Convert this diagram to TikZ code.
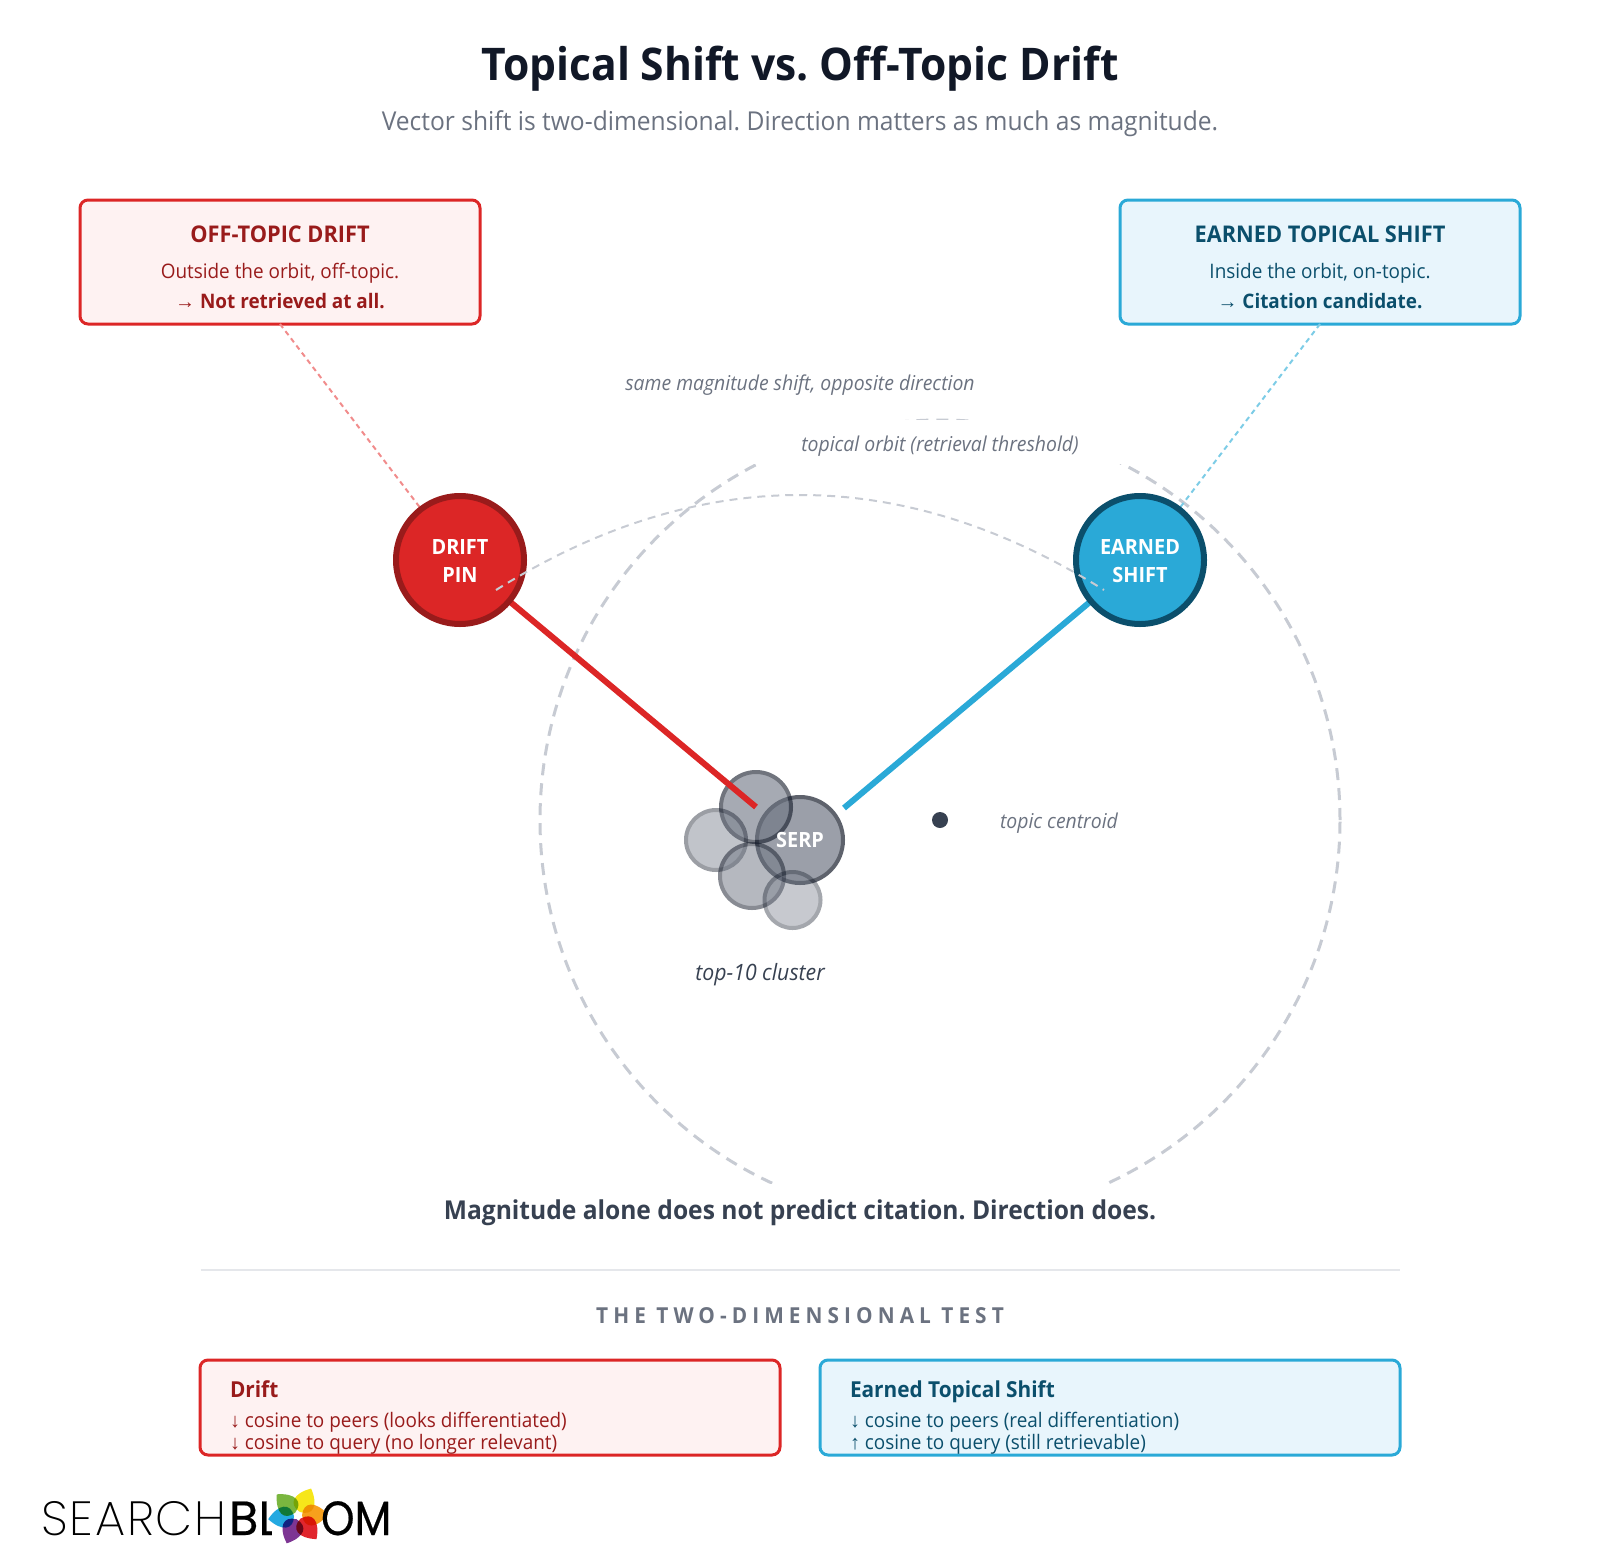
\documentclass[tikz,border=0pt]{standalone}
\usepackage{fontspec}
\usepackage{xcolor}
\setmainfont[FakeStretch=0.946]{Open Sans}
\newfontfamily\arrowfont{Liberation Sans}
\newfontfamily\logothin{Poppins ExtraLight}
\newfontfamily\logobold[FakeBold=0.4]{Poppins}
\usetikzlibrary{positioning}
\definecolor{sbink}{rgb}{0.067, 0.094, 0.153}
\definecolor{sbgrey}{rgb}{0.42, 0.447, 0.502}
\definecolor{sbslate}{rgb}{0.216, 0.255, 0.318}
\definecolor{sborbit}{rgb}{0.78, 0.796, 0.827}
\definecolor{sbrule}{rgb}{0.898, 0.906, 0.922}
\definecolor{sbred}{rgb}{0.863, 0.149, 0.149}
\definecolor{sbreddark}{rgb}{0.6, 0.106, 0.106}
\definecolor{sbredpale}{rgb}{0.996, 0.949, 0.949}
\definecolor{sbredlead}{rgb}{0.945, 0.55, 0.55}
\definecolor{sbblue}{rgb}{0.165, 0.663, 0.843}
\definecolor{sbbluedark}{rgb}{0.043, 0.31, 0.424}
\definecolor{sbbluepale}{rgb}{0.91, 0.961, 0.988}
\definecolor{sbbluelead}{rgb}{0.49, 0.8, 0.902}
\definecolor{petalgreen}{rgb}{0.478, 0.714, 0.247}
\definecolor{petalyellow}{rgb}{0.965, 0.902, 0.102}
\definecolor{petalorange}{rgb}{0.969, 0.627, 0.11}
\definecolor{petalred}{rgb}{0.882, 0.149, 0.176}
\definecolor{petalpurple}{rgb}{0.49, 0.208, 0.576}
\definecolor{petalblue}{rgb}{0.141, 0.663, 0.882}
\newcommand{\fsz}[1]{\fontsize{#1}{#1}\selectfont}
\newcommand{\arr}[1]{{\arrowfont #1}}
\frenchspacing
\tikzset{
    lbl/.style={anchor=base, inner sep=0pt, outer sep=0pt},
    lblw/.style={anchor=base west, inner sep=0pt, outer sep=0pt},
    notebox/.style={draw, rectangle, rounded corners=8pt, line width=3pt, inner sep=0pt, outer sep=0pt},
    pinnode/.style={draw, circle, line width=6pt, minimum size=128pt, inner sep=0pt, outer sep=0pt},
    peer/.style={draw=sbink, fill=sbgrey, circle, line width=4pt, inner sep=0pt, outer sep=0pt},
    lead/.style={line width=2pt, dash pattern=on 5pt off 4pt},
    shiftline/.style={line width=6pt},
    orbit/.style={draw=sborbit, line width=3pt, dash pattern=on 12pt off 8pt},
    petal/.style={blend mode=multiply}
}
\begin{document}
\begin{tikzpicture}[x=1pt, y=-1pt]
        \useasboundingbox (0,0) rectangle (1600,1560);

        \node[lbl, font=\bfseries\fsz{45}, text=sbink] (Title) at (800, 81) {Topical Shift vs. Off-Topic Drift};
        \node[lbl, font=\fsz{26}, text=sbgrey] (Sub) at (800, 131) {Vector shift is two-dimensional. Direction matters as much as magnitude.};

        \coordinate (Cd) at (460, 560);
        \coordinate (Ce) at (1140, 560);
        \coordinate (Be) at (844, 808);
        \coordinate (Aa) at (496, 590);
        \coordinate (Ab) at (1104, 590);

        \node[orbit, circle, minimum size=800pt, inner sep=0pt, outer sep=0pt] (Orbit) at (940, 820) {};
        \fill[white] (740, 420) rectangle (1140, 464);
        \fill[white] (740, 1184) rectangle (1140, 1225);

        \node[notebox, fill=sbredpale, draw=sbred, minimum width=400pt, minimum height=124pt] (Ba) at (280, 262) {};
        \node[notebox, fill=sbbluepale, draw=sbblue, minimum width=400pt, minimum height=124pt] (Bb) at (1320, 262) {};
        \node[lbl, font=\bfseries\fsz{23}, text=sbreddark] (Ta) at (280, 242) {OFF-TOPIC DRIFT};
        \node[lbl, font=\fsz{20}, text=sbreddark] (Tb) at (280, 278) {Outside the orbit, off-topic.};
        \node[lbl, font=\bfseries\fsz{20}, text=sbreddark] (Tc) at (280, 308) {\arr{→} Not retrieved at all.};
        \node[lbl, font=\bfseries\fsz{23}, text=sbbluedark] (Td) at (1320, 242) {EARNED TOPICAL SHIFT};
        \node[lbl, font=\fsz{20}, text=sbbluedark] (Te) at (1320, 278) {Inside the orbit, on-topic.};
        \node[lbl, font=\bfseries\fsz{20}, text=sbbluedark] (Tf) at (1320, 308) {\arr{→} Citation candidate.};

        \node[lbl, font=\itshape\fsz{20.5}, text=sbgrey] (Lm) at (800, 390) {same magnitude shift, opposite direction};
        \node[lbl, font=\itshape\fsz{20.5}, text=sbgrey] (Lo) at (940, 451) {topical orbit (retrieval threshold)};
        \node[lblw, font=\itshape\fsz{20.5}, text=sbgrey] (Lc) at (1000, 828) {topic centroid};
        \node[lbl, font=\itshape\fsz{22.5}, text=sbslate] (Lt) at (760, 980) {top-10 cluster};

        \foreach \nm/\px/\py/\sz/\op in {Ns/800/840/86/0.68, Na/756/807/70/0.6, Nb/716/840/60/0.42, Nc/752/876/64/0.5, Nd/792.5/900/56/0.38} {
            \begin{scope}[transparency group, opacity=\op]
                \node[peer, minimum size=\sz pt] (\nm) at (\px, \py) {};
            \end{scope}
        }
        \node[lbl, font=\bfseries\fsz{21}, text=white] (Ls) at (800, 847) {SERP};
        \node[circle, fill=sbslate, minimum size=16pt, inner sep=0pt, outer sep=0pt] (Nt) at (940, 820) {};

        \draw [lead, color=sbredlead] (Ba.south) -- (Cd);
        \draw [lead, color=sbbluelead] (Bb.south) -- (Ce);
        \draw [shiftline, color=sbred] (Cd) -- (Na.center);
        \draw [shiftline, color=sbblue] (Ce) -- (Be);

        \node[pinnode, fill=sbred, draw=sbreddark] (Pd) at (Cd) {};
        \node[pinnode, fill=sbblue, draw=sbbluedark] (Pe) at (Ce) {};
        \node[lbl, font=\bfseries\fsz{21}, text=white] (Pa) at (460, 554) {DRIFT};
        \node[lbl, font=\bfseries\fsz{21}, text=white] (Pb) at (460, 582) {PIN};
        \node[lbl, font=\bfseries\fsz{21}, text=white] (Pc) at (1140, 554) {EARNED};
        \node[lbl, font=\bfseries\fsz{21}, text=white] (Pf) at (1140, 582) {SHIFT};

        \draw [color=sborbit, line width=2pt, dash pattern=on 8pt off 6pt] (Aa) .. controls (698.67, 463.33) and (901.33, 463.33) .. (Ab);

        \node[lbl, font=\bfseries\fsz{26}, text=sbslate] (Mg) at (800, 1219) {Magnitude alone does not predict citation. Direction does.};
        \node[inner sep=0pt, outer sep=0pt] (Ra) at (200, 1270) {};
        \node[inner sep=0pt, outer sep=0pt] (Rb) at (1400, 1270) {};
        \draw [color=sbrule, line width=2pt] (Ra) -- (Rb);
        \node[lbl, font={\bfseries\fsz{22}\addfontfeature{LetterSpace=23}}, text=sbgrey] (Tt) at (800, 1323) {THE TWO-DIMENSIONAL TEST};

        \node[notebox, fill=sbredpale, draw=sbred, minimum width=580pt, minimum height=95pt] (Bc) at (490, 1407.5) {};
        \node[notebox, fill=sbbluepale, draw=sbblue, minimum width=580pt, minimum height=95pt] (Bd) at (1110, 1407.5) {};
        \node[lblw, font=\bfseries\fsz{22}, text=sbreddark] (Da) at (230, 1397) {Drift};
        \node[lblw, font=\fsz{20}, text=sbreddark] (Db) at (230, 1427) {\arr{↓} cosine to peers (looks differentiated)};
        \node[lblw, font=\fsz{20}, text=sbreddark] (Dc) at (230, 1449) {\arr{↓} cosine to query (no longer relevant)};
        \node[lblw, font=\bfseries\fsz{22}, text=sbbluedark] (Ea) at (850, 1397) {Earned Topical Shift};
        \node[lblw, font=\fsz{20}, text=sbbluedark] (Eb) at (850, 1427) {\arr{↓} cosine to peers (real differentiation)};
        \node[lblw, font=\fsz{20}, text=sbbluedark] (Ec) at (850, 1449) {\arr{↑} cosine to query (still retrievable)};

        \node[lblw, font={\logothin\fsz{48}\addfontfeature{LetterSpace=4}}, text=black] (Sa) at (41, 1535) {SEARCH};
        \node[lblw, font=\logobold\fsz{48}, text=black] (Sb) at (229, 1535) {BL};
        \node[lblw, font=\logobold\fsz{48}, text=black, xscale=0.89] (Sc) at (321, 1535) {OM};
        \fill[white] (272, 1490) rectangle (322, 1542);
        \foreach \ang/\col in {135/petalgreen, 64/petalyellow, 2/petalorange, -52/petalred, -112/petalpurple, 187/petalblue} {
            \fill[petal, color=\col, shift={(298, 1515.5)}, rotate=\ang] (4, 0) .. controls (6, -14) and (18, -14) .. (30, 0) .. controls (18, 14) and (6, 14) .. (4, 0) -- cycle;
        }
    \end{tikzpicture}
\end{document}
